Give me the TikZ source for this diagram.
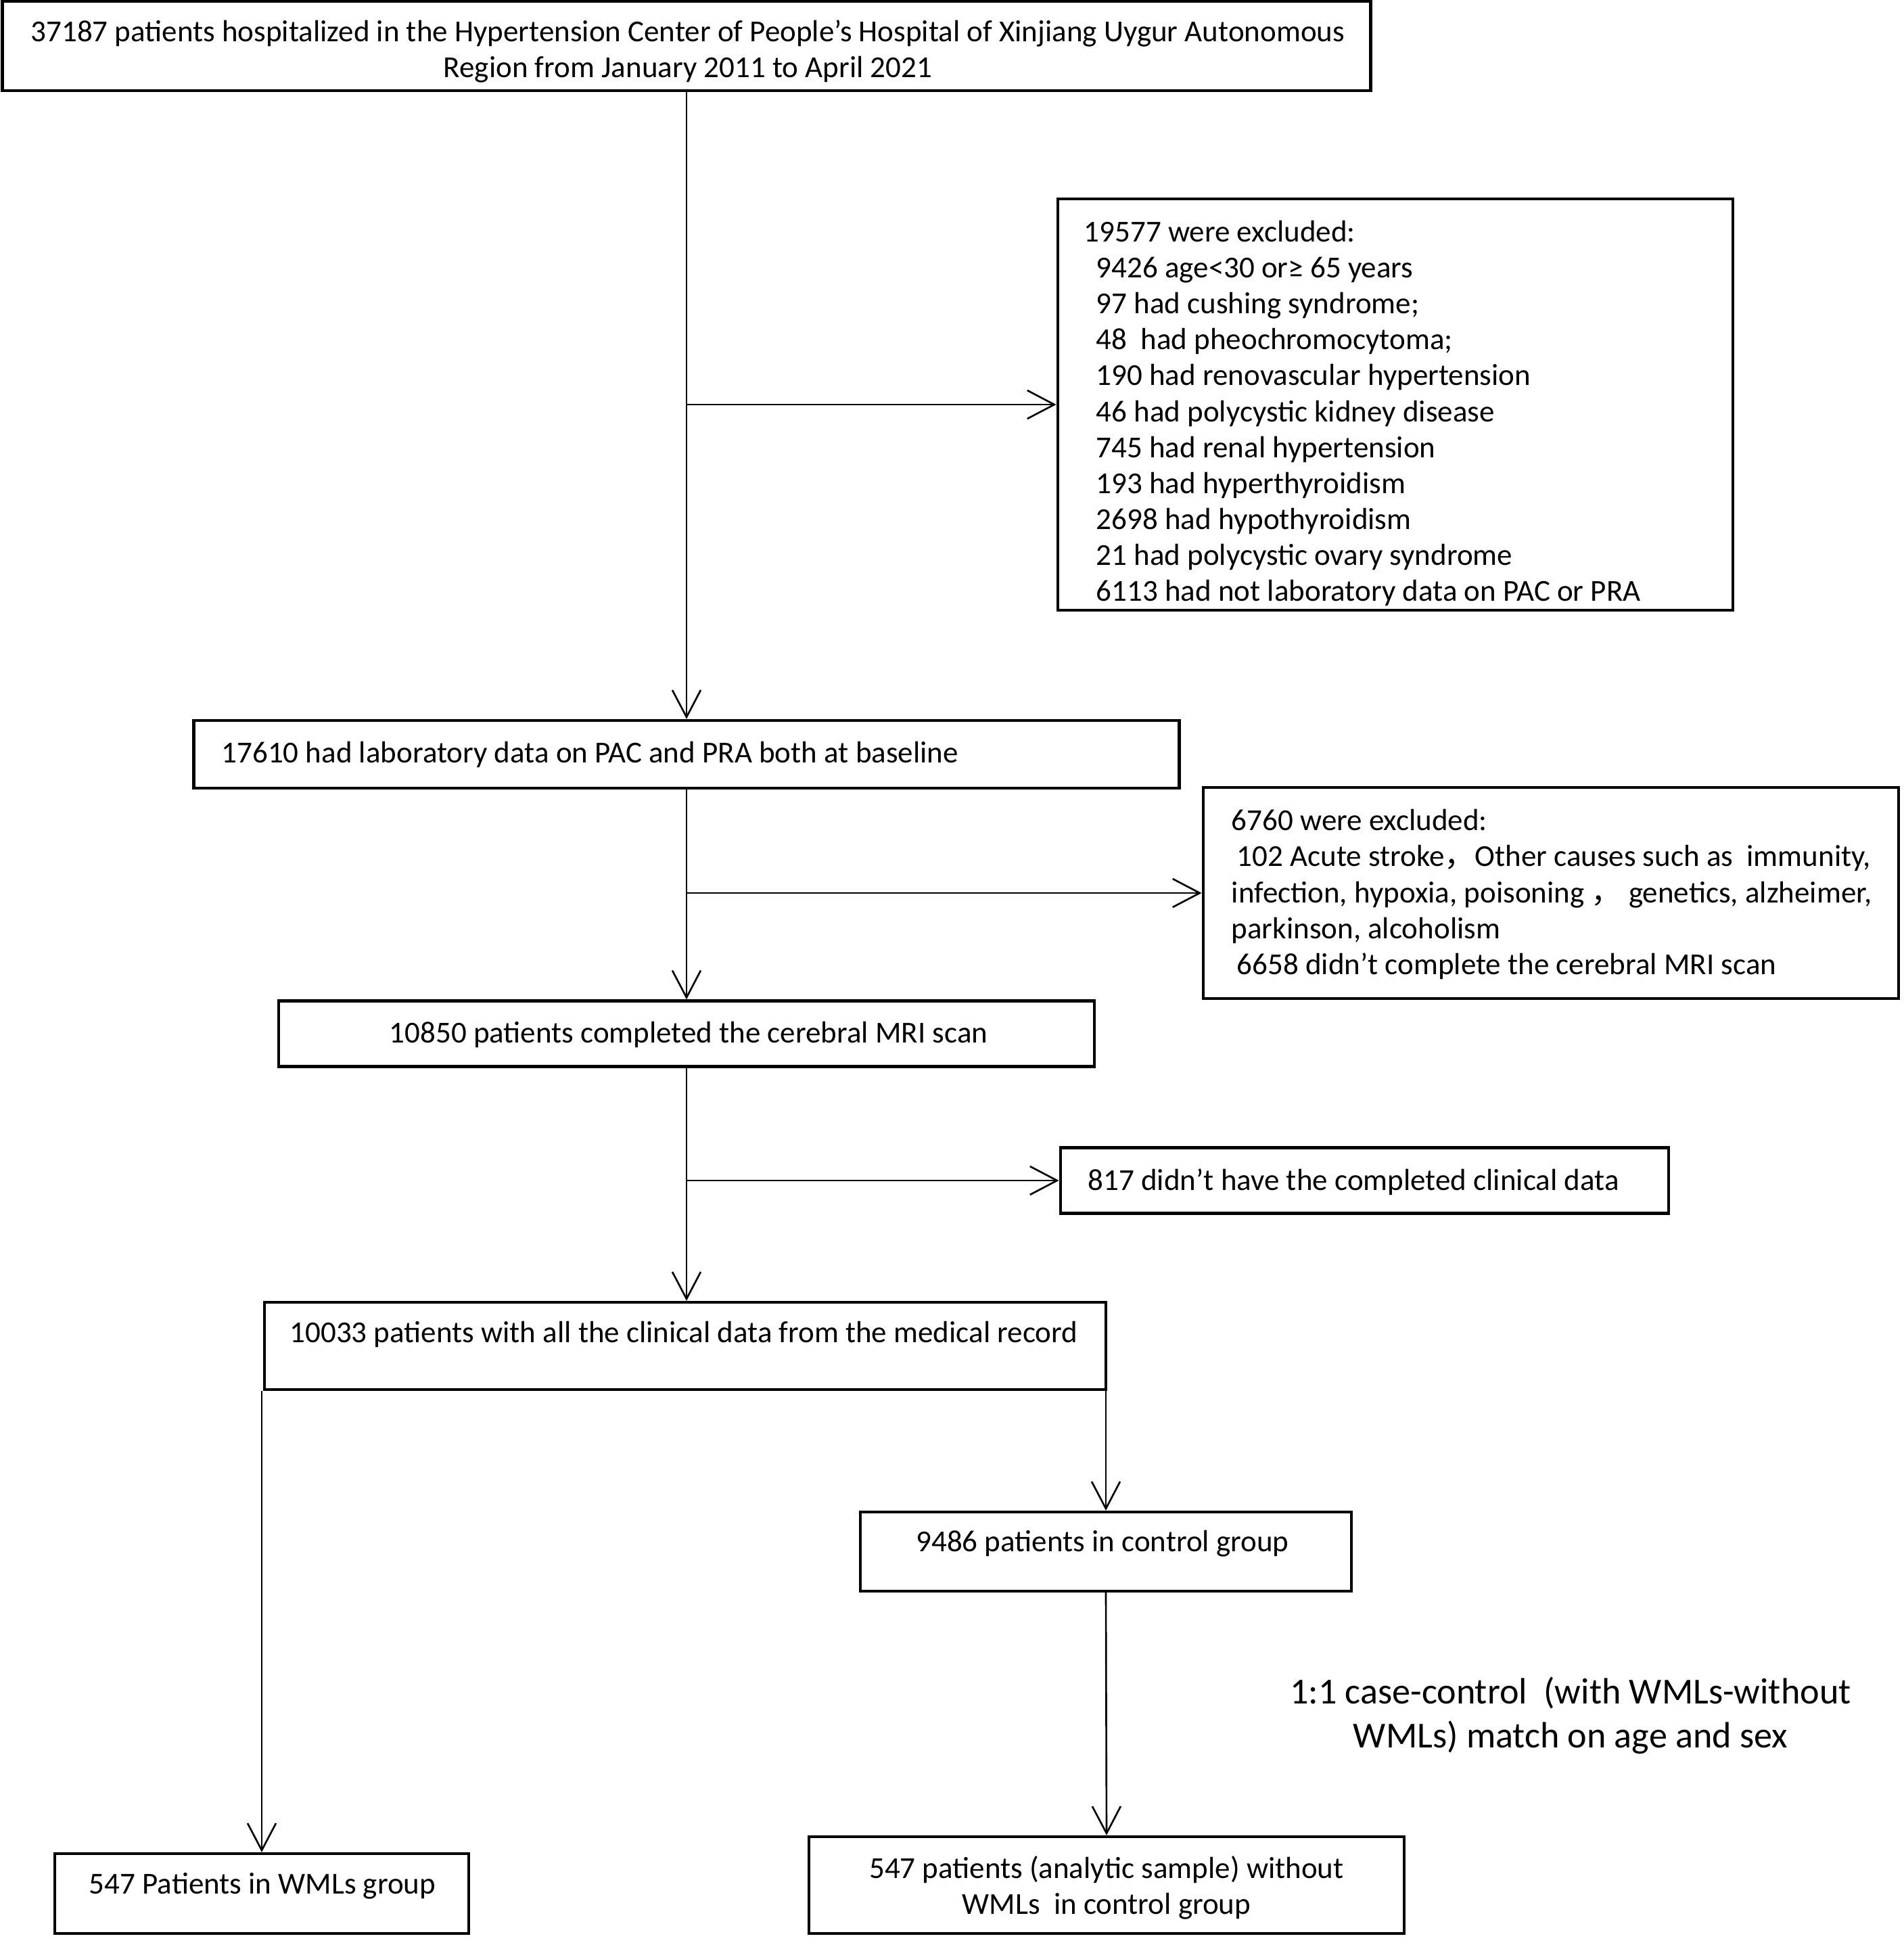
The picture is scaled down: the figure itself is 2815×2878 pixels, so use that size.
\documentclass[tikz,border=0pt]{standalone}
\usepackage{fontspec}
\setmainfont{Carlito}
\newfontfamily\cjkf{Noto Sans CJK SC}
\usetikzlibrary{arrows.meta,calc}
\begin{document}
\begin{tikzpicture}[x=0.01cm,y=-0.01cm,
  box/.style={draw=black,line width=1.2pt,rectangle,inner sep=0pt},
  txt/.style={font=\fontsize{12.8}{15.1}\selectfont,inner sep=0pt,align=left},
  ctxt/.style={font=\fontsize{12.8}{15.1}\selectfont,inner sep=0pt,align=center},
  bigtxt/.style={font=\fontsize{15.4}{18.6}\selectfont,inner sep=0pt,align=center},
  arr/.style={line width=0.75pt,-{Straight Barb[length=4mm,width=4.2mm,line width=0.75pt]}}]
\useasboundingbox (0,0) rectangle (2815,2878);

% boxes
\node[box,minimum width=20.22cm,minimum height=1.32cm] (top) at (1015,68) {};
\node[box,minimum width=9.98cm,minimum height=6.08cm] (ex1) at (2063,598) {};
\node[box,minimum width=14.56cm,minimum height=1.00cm] (b17610) at (1015,1115) {};
\node[box,minimum width=10.28cm,minimum height=3.12cm] (ex2) at (2293,1320) {};
\node[box,minimum width=8.99cm,minimum height=0.97cm] (b817) at (2017.5,1745) {};
\node[box,minimum width=12.06cm,minimum height=0.97cm] (b10850) at (1015,1528) {};
\node[box,minimum width=12.44cm,minimum height=1.29cm] (b10033) at (1013,1989.5) {};
\node[box,minimum width=7.26cm,minimum height=1.17cm] (b9486) at (1635,2293.5) {};
\node[box,minimum width=6.12cm,minimum height=1.18cm] (b547w) at (387,2799) {};
\node[box,minimum width=8.80cm,minimum height=1.43cm] (b547c) at (1636,2786.5) {};

% texts
\node[ctxt] (ttop) at (1017,76) {37187 patients hospitalized in the Hypertension Center of People’s Hospital of Xinjiang Uygur Autonomous\\Region from January 2011 to April 2021};
\node[txt,anchor=west] (tex1) at (1602,611) {19577 were excluded:\\
\hspace*{0.18cm}9426 age<30 or≥ 65 years\\
\hspace*{0.18cm}97 had cushing syndrome;\\
\hspace*{0.18cm}48\ \ had pheochromocytoma;\\
\hspace*{0.18cm}190 had renovascular hypertension\\
\hspace*{0.18cm}46 had polycystic kidney disease\\
\hspace*{0.18cm}745 had renal hypertension\\
\hspace*{0.18cm}193 had hyperthyroidism\\
\hspace*{0.18cm}2698 had hypothyroidism\\
\hspace*{0.18cm}21 had polycystic ovary syndrome\\
\hspace*{0.18cm}6113 had not laboratory data on PAC or PRA};
\node[txt,anchor=west] (t17610) at (327,1115) {17610 had laboratory data on PAC and PRA both at baseline};
\node[txt,anchor=west] (tex2) at (1820,1322) {6760 were excluded:\\
\hspace*{0.08cm}102 Acute stroke{\cjkf ，}Other causes such as\ \ immunity,\\
infection, hypoxia, poisoning {\cjkf ，} genetics, alzheimer,\\
parkinson, alcoholism\\
\hspace*{0.08cm}6658 didn’t complete the cerebral MRI scan};
\node[ctxt] (t10850) at (1018,1529) {10850 patients completed the cerebral MRI scan};
\node[txt,anchor=west] (t817) at (1608,1747) {817 didn’t have the completed clinical data};
\node[txt,anchor=west] (t10033) at (428,1972) {10033 patients with all the clinical data from the medical record};
\node[ctxt] (t9486) at (1630,2282) {9486 patients in control group};
\node[bigtxt] (tmatch) at (2322,2536) {1:1 case-control\ \ (with WMLs-without\\WMLs) match on age and sex};
\node[ctxt] (t547w) at (388,2788) {547 Patients in WMLs group};
\node[ctxt] (t547c) at (1636,2790) {547 patients (analytic sample) without\\WMLs\ \ in control group};

% connectors
\draw[arr] (top.south) -- (b17610.north);
\draw[arr] (top.south |- ex1.west) -- (ex1.west);
\draw[arr] (b17610.south) -- (b10850.north);
\draw[arr] (b17610.south |- ex2.west) -- (ex2.west);
\draw[arr] (b10850.south) -- (b10033.north -| b10850.south);
\draw[arr] (b10850.south |- b817.west) -- (b817.west);
\draw[arr] (b547w.north |- b10033.south) -- (b547w.north);
\draw[arr] (b9486.north |- b10033.south) -- (b9486.north);
\draw[arr] (b9486.south) -- (b547c.north);
\end{tikzpicture}
\end{document}
